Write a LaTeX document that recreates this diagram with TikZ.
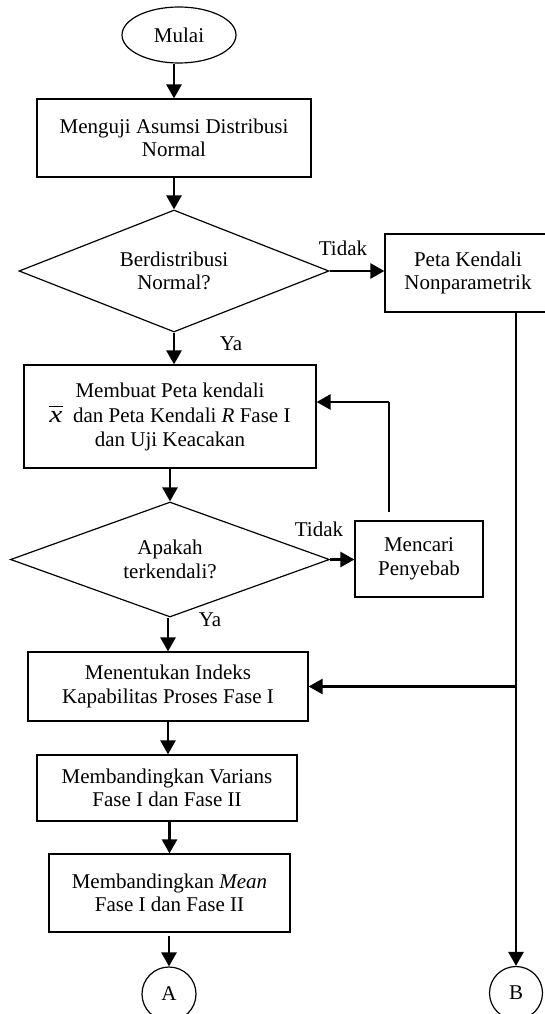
\documentclass[tikz,border=0pt]{standalone}
\usepackage{fontspec}
\setmainfont{Liberation Serif}
\usetikzlibrary{shapes.geometric,arrows.meta}
\newcommand{\barx}{\leavevmode\vbox{\hrule height 1.2pt\kern 4pt\hbox{\scalebox{1.4}[1.15]{\itshape x}}}}
\begin{document}
\begin{tikzpicture}[x=1pt,y=-1pt,
 every node/.style={font=\fontsize{21}{23.5}\selectfont, align=center, inner sep=0pt},
 box/.style={draw, line width=1.2pt, rectangle},
 dec/.style={draw, line width=1.2pt, diamond},
 term/.style={draw, line width=1.2pt, ellipse},
 conn/.style={draw, line width=1.2pt, circle},
 arr/.style={line width=2.6pt, -{Triangle[width=15pt,length=14pt]}},
 thinline/.style={line width=1.3pt},
 thickline/.style={line width=2.6pt}
]
\useasboundingbox (0,0) rectangle (545,1014);
\clip (0,0) rectangle (545,1014);

\node[term, minimum width=114pt, minimum height=56pt] (mulai) at (179,35) {Mulai};
\node[box, minimum width=274pt, minimum height=78pt] (box1) at (174,138) {Menguji Asumsi Distribusi\\Normal};
\node[dec, shape aspect=2.5, minimum width=310pt, minimum height=122pt] (d1) at (174,271) {Berdistribusi\\Normal?};
\node[box, minimum width=166pt, minimum height=78pt] (peta) at (468,273) {Peta Kendali\\Nonparametrik};
\node[box, minimum width=292pt, minimum height=103pt] (box2) at (170,416.5) {Membuat Peta kendali\\[2pt]\barx\ \ dan Peta Kendali \textit{R} Fase I\\dan Uji Keacakan};
\node[dec, shape aspect=2.7, minimum width=319pt, minimum height=115pt] (d2) at (170,559.5) {Apakah\\terkendali?};
\node[box, minimum width=128pt, minimum height=76pt] (mencari) at (419,559) {Mencari\\Penyebab};
\node[box, minimum width=280pt, minimum height=69pt] (box3) at (168,686.5) {Menentukan Indeks\\Kapabilitas Proses Fase I};
\node[box, minimum width=260pt, minimum height=66pt] (box4) at (167,788) {Membandingkan Varians\\Fase I dan Fase II};
\node[box, minimum width=241pt, minimum height=78pt] (box5) at (169.5,893) {Membandingkan \textit{Mean}\\Fase I dan Fase II};
\node[conn, minimum size=54pt] (ca) at (169,994) {A};
\node[conn, minimum size=53pt] (cb) at (516,993) {B};

% labels
\node (t1) at (343,248.5) {Tidak};
\node (y1) at (231,344) {Ya};
\node (t2) at (319,529) {Tidak};
\node (y2) at (210,620) {Ya};

% coordinates
\coordinate (fb) at (389,402);
\coordinate (j) at (cb.north |- box3.east);

% connectors
\draw[arr] (mulai.south -| box1.north) -- (box1.north);
\draw[arr] (box1.south) -- (box1.south |- d1.north);
\draw[arr] (d1.east) -- (d1.east -| peta.west);
\draw[arr] (d1.south) -- (d1.south |- box2.north);
\draw[arr] (box2.south) -- (box2.south |- d2.north);
\draw[arr] (d2.east) -- (d2.east -| mencari.west);
\draw[thinline, shorten <=8pt] (mencari.north -| fb) -- (fb);
\draw[arr] (fb) -- (fb -| box2.east);
\draw[arr] (d2.south -| box3.north) -- (box3.north);
\draw[arr] (peta.south -| cb.north) -- (cb.north);
\draw[arr] (j) -- (box3.east);
\draw[arr] (box3.south) -- (box3.south |- box4.north);
\draw[arr] (box4.south -| box5.north) -- (box5.north);
\draw[arr, shorten <=3pt] (box5.south -| ca.north) -- (ca.north);
\end{tikzpicture}
\end{document}
